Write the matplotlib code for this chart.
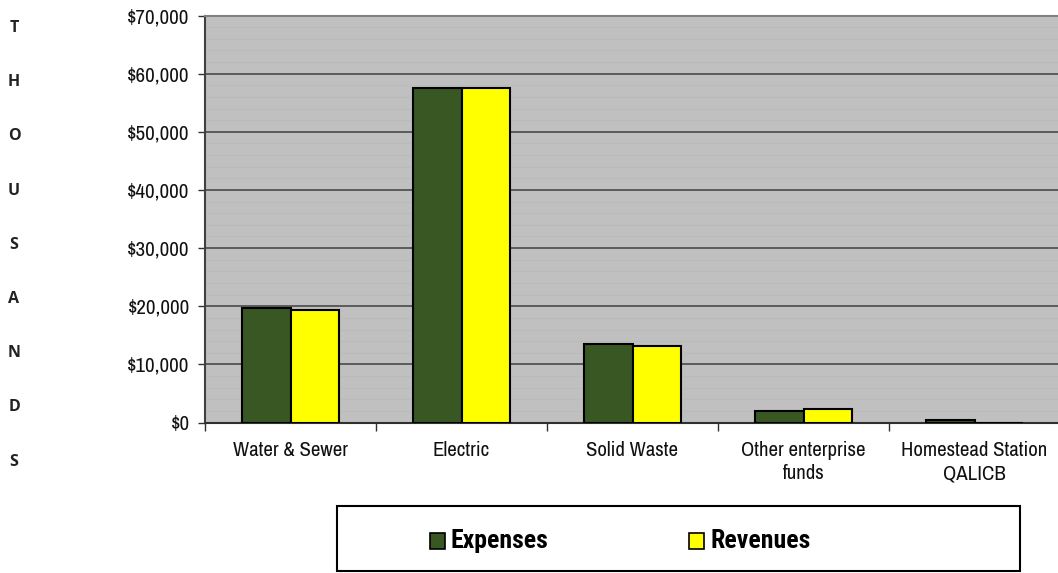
import numpy as np
import matplotlib
matplotlib.use("Agg")
import matplotlib.pyplot as plt
from matplotlib.patches import Rectangle
from matplotlib.ticker import FuncFormatter, MultipleLocator, FixedLocator

categories = ["Water & Sewer", "Electric", "Solid Waste",
              "Other enterprise\nfunds", "Homestead Station\nQALICB"]
expenses = [19750, 57550, 13600, 2000, 400]
revenues = [19400, 57550, 13250, 2350, 0]
series_names = ["Expenses", "Revenues"]
side_label = "THOUSANDS"

GREEN = "#385723"
YELLOW = "#FFFF00"
NARROW = ["Archivo Narrow", "DejaVu Sans"]
NARROW_BOLD = ["Roboto Condensed", "DejaVu Sans"]

W, H = 1058, 573
fig = plt.figure(figsize=(W / 100, H / 100), dpi=100)

# plot area in pixel coordinates
x0, x1 = 205, 1060
y_top, y_bot = 15.5, 422.6
ax = fig.add_axes([x0 / W, 1 - y_bot / H, (x1 - x0) / W, (y_bot - y_top) / H])
ax.set_facecolor("#C0C0C0")

n = len(categories)
x = np.arange(n)
bw = 1 / 3.5
ax.bar(x - bw / 2, expenses, bw, color=GREEN, edgecolor="black", linewidth=1.5, zorder=3)
ax.bar(x + bw / 2, revenues, bw, color=YELLOW, edgecolor="black", linewidth=1.5, zorder=3)

ax.set_xlim(-0.5, n - 0.5)
ax.set_ylim(0, 70000)

# faint bands and major gridlines
for v in np.arange(2000, 70000, 2000):
    if v % 10000:
        ax.axhline(v, color="#BBBBBB", lw=1.0, zorder=1)
ax.yaxis.set_major_locator(MultipleLocator(10000))
ax.yaxis.set_major_formatter(FuncFormatter(lambda v, p: f"${v:,.0f}"))
ax.grid(axis="y", color="#404040", lw=1.1, zorder=2)
ax.set_axisbelow(True)

ax.set_xticks(x)
ax.set_xticklabels(categories, fontfamily=NARROW, fontsize=15, linespacing=1.3,
                   color="#111111")
ax.tick_params(axis="x", which="major", length=0, pad=13)
ax.xaxis.set_minor_locator(FixedLocator(np.arange(-0.5, n, 1.0)))
ax.tick_params(axis="x", which="minor", length=6, width=1, color="#303030", direction="out")
ax.tick_params(axis="y", length=5, width=1, color="#303030", direction="out", pad=6)
for t in ax.get_yticklabels():
    t.set_fontfamily(NARROW)
    t.set_fontsize(15)
    t.set_color("#111111")

ax.spines["top"].set_color("#808080")
ax.spines["top"].set_linewidth(1.5)
ax.spines["right"].set_visible(False)
ax.spines["left"].set_color("#404040")
ax.spines["left"].set_linewidth(1.5)
ax.spines["bottom"].set_color("#303030")
ax.spines["bottom"].set_linewidth(1.5)

# vertical unit label on the left
for i, ch in enumerate(side_label):
    fig.text(14 / W, 1 - (28 + i * 54.2) / H, ch, ha="center", va="center",
             fontsize=11.5, fontweight="bold", color="#222222",
             fontfamily=["Open Sans", "DejaVu Sans"])

# legend box
bx0, bx1, by0, by1 = 337, 1020, 506, 571
fig.patches.append(Rectangle((bx0 / W, 1 - by1 / H), (bx1 - bx0) / W, (by1 - by0) / H,
                             transform=fig.transFigure, facecolor="white",
                             edgecolor="black", linewidth=1.5))
for (mx, tx), name, col in zip([(430, 451), (689, 711)], series_names, [GREEN, YELLOW]):
    fig.patches.append(Rectangle((mx / W, 1 - 549 / H), 15 / W, 16 / H,
                                 transform=fig.transFigure, facecolor=col,
                                 edgecolor="black", linewidth=1.2))
    fig.text(tx / W, 1 - 541 / H, name, ha="left", va="center", fontsize=18.5,
             fontweight="bold", fontfamily=NARROW_BOLD)

fig.savefig("out.png", dpi=100)
